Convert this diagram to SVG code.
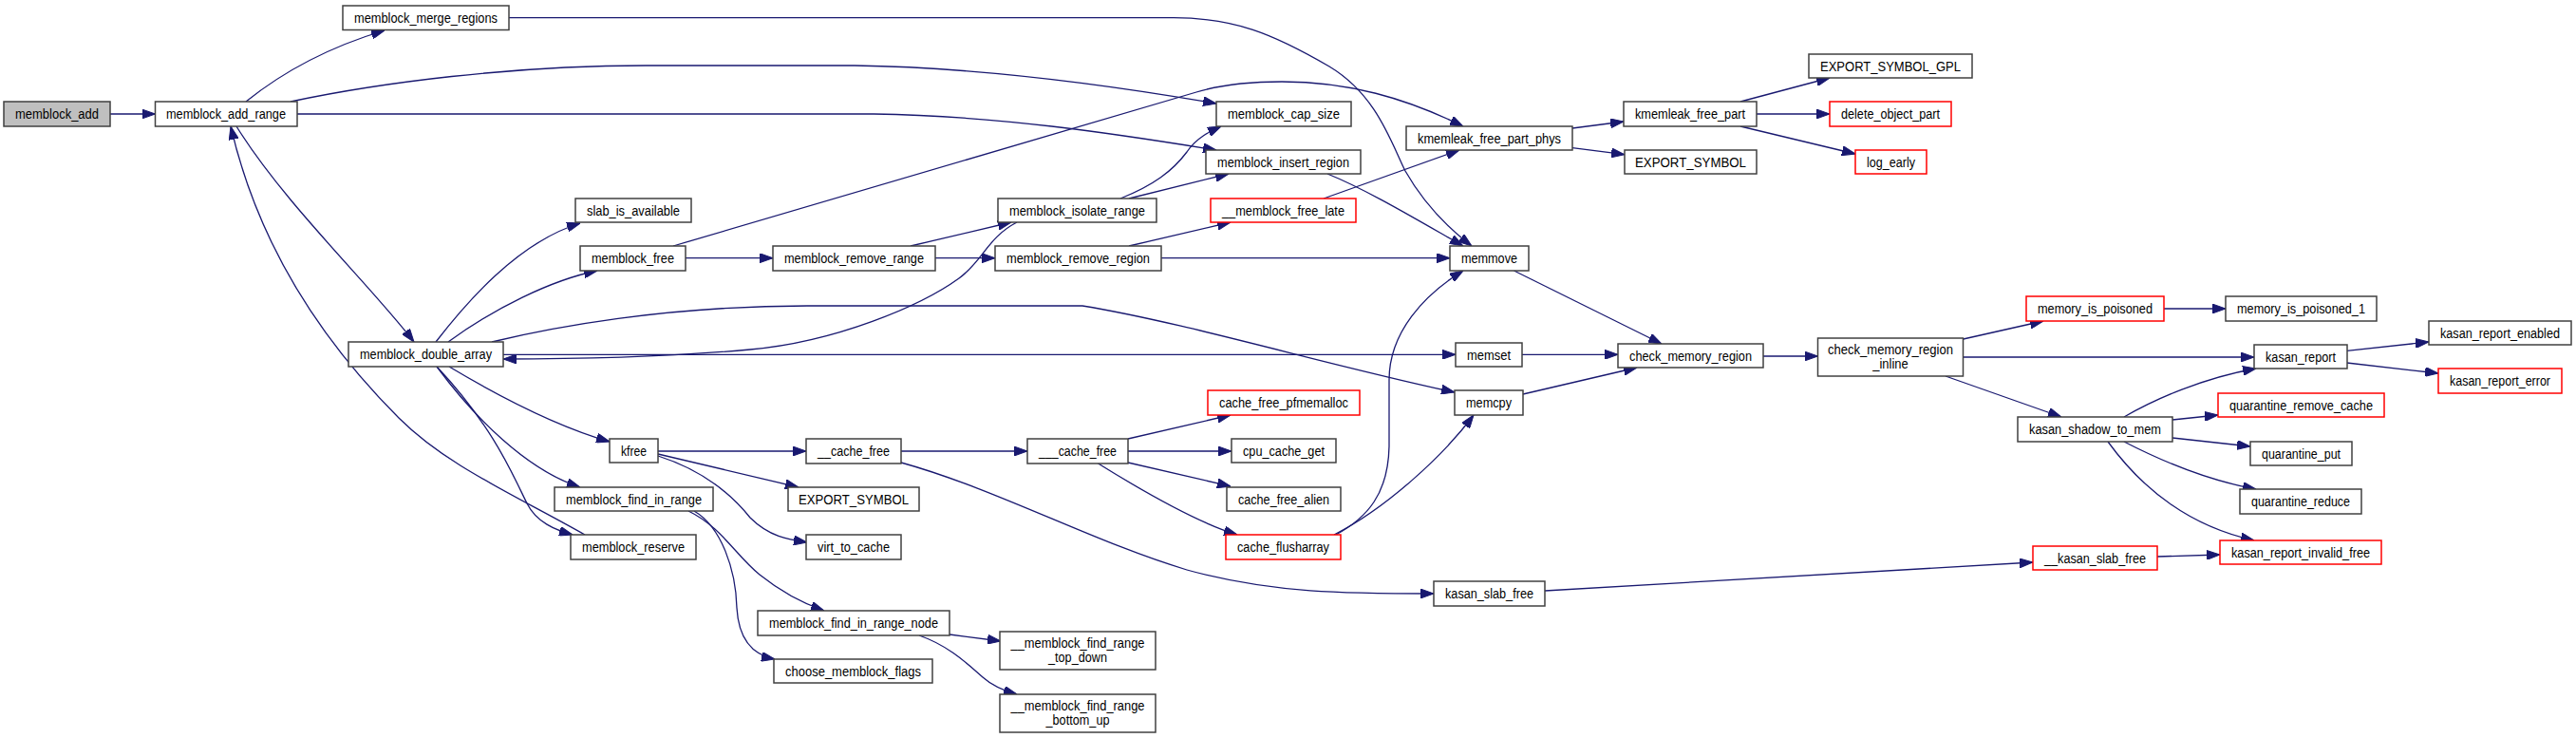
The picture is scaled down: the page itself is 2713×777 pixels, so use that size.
<svg xmlns="http://www.w3.org/2000/svg" width="2713" height="777" viewBox="0 0 2713 777">
<style>
.n rect{fill:#fff;stroke:#404040;stroke-width:1.5}
.root rect{fill:#bfbfbf}
.r rect{stroke:#ff0000}
text{font-family:"Liberation Sans",Arial,sans-serif;font-size:15.5px;text-anchor:middle;fill:#000}
.e path{fill:none;stroke:#191970;stroke-width:1.3;marker-end:url(#a)}
</style>
<defs>
<marker id="a" markerUnits="userSpaceOnUse" markerWidth="14" markerHeight="10" refX="14" refY="5" orient="auto"><path d="M0,0L14,5L0,10z" fill="#191970" stroke="#191970" stroke-width="1"/></marker>
</defs>
<rect width="2713" height="777" fill="#fff"/>
<g id="edges" class="e">
<path d="M116,120L163.5,120"/>
<path d="M259,107C295,78 345,50 405,32"/>
<path d="M306,107C400,87 540,69 680,69L900,69C1030,71 1160,88 1281,109"/>
<path d="M313,120L920,120C1050,122 1170,140 1281,158"/>
<path d="M249,133C300,215 390,300 436,360"/>
<path d="M536,18.7L1236,18.7C1300,19 1340,35 1400,70C1450,100 1465,150 1480,180C1500,215 1525,240 1550,259"/>
<path d="M459,360C490,320 545,255 611,235"/>
<path d="M472,360C520,325 580,295 629,285"/>
<path d="M473,386C530,420 590,450 642,465"/>
<path d="M460,386C500,440 555,495 611,513"/>
<path d="M460,386C520,450 540,500 555,530C565,550 585,558 603,563"/>
<path d="M616,563C540,520 470,490 420,440C330,350 270,250 243,133"/>
<path d="M518,360C580,345 700,322 850,322L1140,322C1250,340 1400,385 1532,413"/>
<path d="M530,373.3L1533,373.3"/>
<path d="M1071,234C1040,250 1035,275 1010,293C970,322 880,360 790,368C700,376 600,378 530,378"/>
<path d="M722,271.7L814,271.7"/>
<path d="M985,271.7L1048,271.7"/>
<path d="M959,259L1065,234"/>
<path d="M1189,259L1296,234"/>
<path d="M1222.5,271.7L1527,271.7"/>
<path d="M1180,209C1215,195 1235,180 1250,160C1260,145 1275,138 1286,133"/>
<path d="M1189,209L1294,183"/>
<path d="M709,259L1260,97C1290,88 1320,86 1350,86C1420,86 1480,103 1541,133"/>
<path d="M1394,209L1537,158"/>
<path d="M1398,183C1440,200 1490,230 1541,259"/>
<path d="M1407,563C1440,545 1462,520 1463,470L1463,400C1463,350 1500,310 1541,285"/>
<path d="M1405,563C1460,535 1520,480 1552,437"/>
<path d="M1656,135L1710,128"/>
<path d="M1656,155.7L1711,162.7"/>
<path d="M1833,107L1927,82"/>
<path d="M1850,120L1927,120"/>
<path d="M1833,133L1954,162"/>
<path d="M1594.5,285L1750,362"/>
<path d="M1603,373.3L1704,373.3"/>
<path d="M1604,415L1724,387"/>
<path d="M1857,375L1914.5,375"/>
<path d="M2067.7,357L2152,338"/>
<path d="M2067.7,376L2374,376"/>
<path d="M2049,396L2171,439"/>
<path d="M2279,325L2344,325"/>
<path d="M2471.7,369.3L2558,360"/>
<path d="M2471.7,382L2568,393"/>
<path d="M2237,439C2270,420 2320,398 2376,388"/>
<path d="M2288,442L2336,437"/>
<path d="M2288,461L2370,470"/>
<path d="M2237,465C2270,482 2320,505 2376,515"/>
<path d="M2220,465C2260,520 2310,555 2374,569"/>
<path d="M2272,586L2338,584"/>
<path d="M1627,622L2141,592"/>
<path d="M949,487C1050,515 1150,570 1250,600C1340,625 1420,625 1510,625"/>
<path d="M693,475L849,475"/>
<path d="M693,478L841,513"/>
<path d="M693,480C740,495 770,520 790,545C810,565 830,568 850,571"/>
<path d="M949,475L1082,475"/>
<path d="M1188,462L1296,437"/>
<path d="M1188,475L1297,475"/>
<path d="M1188,487L1296,512"/>
<path d="M1155,487C1200,515 1260,550 1303,563"/>
<path d="M725,538C760,555 775,585 800,605C825,625 845,635 868,643"/>
<path d="M731,538C760,555 775,600 776,640C778,675 795,690 816,694"/>
<path d="M1000,668L1054,675"/>
<path d="M968,669C1000,680 1020,700 1035,713C1045,722 1060,728 1071,731"/>
</g>
<g id="memblock_add" class="n root"><rect x="4" y="107" width="112" height="26"/><text x="60" y="125" textLength="88" lengthAdjust="spacingAndGlyphs">memblock_add</text></g>
<g id="memblock_add_range" class="n"><rect x="163.5" y="107" width="149.5" height="26"/><text x="238" y="125" textLength="126" lengthAdjust="spacingAndGlyphs">memblock_add_range</text></g>
<g id="memblock_merge_regions" class="n"><rect x="361" y="6" width="175" height="25.5"/><text x="448.5" y="24" textLength="151" lengthAdjust="spacingAndGlyphs">memblock_merge_regions</text></g>
<g id="memblock_cap_size" class="n"><rect x="1281" y="107" width="142" height="26"/><text x="1352" y="125" textLength="118" lengthAdjust="spacingAndGlyphs">memblock_cap_size</text></g>
<g id="memblock_insert_region" class="n"><rect x="1270" y="158" width="163" height="25"/><text x="1351.5" y="175.5" textLength="139" lengthAdjust="spacingAndGlyphs">memblock_insert_region</text></g>
<g id="slab_is_available" class="n"><rect x="606" y="209" width="122" height="25"/><text x="667" y="226.5" textLength="98" lengthAdjust="spacingAndGlyphs">slab_is_available</text></g>
<g id="memblock_free" class="n"><rect x="611" y="259" width="111" height="26"/><text x="666.5" y="277" textLength="87" lengthAdjust="spacingAndGlyphs">memblock_free</text></g>
<g id="memblock_double_array" class="n"><rect x="367" y="360" width="163" height="26"/><text x="448.5" y="378" textLength="139" lengthAdjust="spacingAndGlyphs">memblock_double_array</text></g>
<g id="memblock_remove_range" class="n"><rect x="814" y="259" width="171" height="26"/><text x="899.5" y="277" textLength="147" lengthAdjust="spacingAndGlyphs">memblock_remove_range</text></g>
<g id="memblock_isolate_range" class="n"><rect x="1051" y="209" width="167" height="25"/><text x="1134.5" y="226.5" textLength="143" lengthAdjust="spacingAndGlyphs">memblock_isolate_range</text></g>
<g id="memblock_remove_region" class="n"><rect x="1048" y="259" width="175" height="26"/><text x="1135.5" y="277" textLength="151" lengthAdjust="spacingAndGlyphs">memblock_remove_region</text></g>
<g id="__memblock_free_late" class="n r"><rect x="1275" y="209" width="153" height="25"/><text x="1351.5" y="226.5" textLength="129" lengthAdjust="spacingAndGlyphs">__memblock_free_late</text></g>
<g id="kmemleak_free_part_phys" class="n"><rect x="1481" y="133" width="175" height="25"/><text x="1568.5" y="150.5" textLength="151" lengthAdjust="spacingAndGlyphs">kmemleak_free_part_phys</text></g>
<g id="kmemleak_free_part" class="n"><rect x="1710" y="107" width="140" height="26"/><text x="1780" y="125" textLength="116" lengthAdjust="spacingAndGlyphs">kmemleak_free_part</text></g>
<g id="EXPORT_SYMBOL_1" class="n"><rect x="1711" y="158" width="139" height="25"/><text x="1780.5" y="175.5" textLength="117" lengthAdjust="spacingAndGlyphs">EXPORT_SYMBOL</text></g>
<g id="EXPORT_SYMBOL_GPL" class="n"><rect x="1905" y="57" width="172" height="25"/><text x="1991" y="74.5" textLength="148" lengthAdjust="spacingAndGlyphs">EXPORT_SYMBOL_GPL</text></g>
<g id="delete_object_part" class="n r"><rect x="1927" y="107" width="128" height="26"/><text x="1991" y="125" textLength="104" lengthAdjust="spacingAndGlyphs">delete_object_part</text></g>
<g id="log_early" class="n r"><rect x="1954" y="158" width="75" height="25"/><text x="1991.5" y="175.5" textLength="51" lengthAdjust="spacingAndGlyphs">log_early</text></g>
<g id="memmove" class="n"><rect x="1527" y="259" width="83" height="26"/><text x="1568.5" y="277" textLength="59" lengthAdjust="spacingAndGlyphs">memmove</text></g>
<g id="memset" class="n"><rect x="1533" y="361" width="70" height="25"/><text x="1568" y="378.5" textLength="46" lengthAdjust="spacingAndGlyphs">memset</text></g>
<g id="memcpy" class="n"><rect x="1532" y="411" width="72" height="26"/><text x="1568" y="429" textLength="48" lengthAdjust="spacingAndGlyphs">memcpy</text></g>
<g id="check_memory_region" class="n"><rect x="1704" y="362" width="153" height="25"/><text x="1780.5" y="379.5" textLength="129" lengthAdjust="spacingAndGlyphs">check_memory_region</text></g>
<g id="check_memory_region_inline" class="n"><rect x="1914.5" y="356" width="153" height="40"/><text x="1991" y="373" textLength="132" lengthAdjust="spacingAndGlyphs">check_memory_region</text><text x="1991" y="388" textLength="37.5" lengthAdjust="spacingAndGlyphs">_inline</text></g>
<g id="memory_is_poisoned" class="n r"><rect x="2134" y="312" width="145" height="26"/><text x="2206.5" y="330" textLength="121" lengthAdjust="spacingAndGlyphs">memory_is_poisoned</text></g>
<g id="memory_is_poisoned_1" class="n"><rect x="2344" y="312" width="159" height="26"/><text x="2423.5" y="330" textLength="135" lengthAdjust="spacingAndGlyphs">memory_is_poisoned_1</text></g>
<g id="kasan_report" class="n"><rect x="2374" y="363" width="98" height="25"/><text x="2423" y="380.5" textLength="74" lengthAdjust="spacingAndGlyphs">kasan_report</text></g>
<g id="kasan_report_enabled" class="n"><rect x="2558" y="338" width="150" height="25"/><text x="2633" y="355.5" textLength="126" lengthAdjust="spacingAndGlyphs">kasan_report_enabled</text></g>
<g id="kasan_report_error" class="n r"><rect x="2568" y="388" width="130" height="26"/><text x="2633" y="406" textLength="106" lengthAdjust="spacingAndGlyphs">kasan_report_error</text></g>
<g id="kasan_shadow_to_mem" class="n"><rect x="2125" y="439" width="163" height="26"/><text x="2206.5" y="457" textLength="139" lengthAdjust="spacingAndGlyphs">kasan_shadow_to_mem</text></g>
<g id="quarantine_remove_cache" class="n r"><rect x="2336" y="414" width="175" height="25"/><text x="2423.5" y="431.5" textLength="151" lengthAdjust="spacingAndGlyphs">quarantine_remove_cache</text></g>
<g id="quarantine_put" class="n"><rect x="2370" y="465" width="107" height="25"/><text x="2423.5" y="482.5" textLength="83" lengthAdjust="spacingAndGlyphs">quarantine_put</text></g>
<g id="quarantine_reduce" class="n"><rect x="2359" y="515" width="128" height="26"/><text x="2423" y="533" textLength="104" lengthAdjust="spacingAndGlyphs">quarantine_reduce</text></g>
<g id="kasan_report_invalid_free" class="n r"><rect x="2338" y="569" width="170" height="25"/><text x="2423" y="586.5" textLength="146" lengthAdjust="spacingAndGlyphs">kasan_report_invalid_free</text></g>
<g id="__kasan_slab_free" class="n r"><rect x="2141" y="575" width="131" height="25"/><text x="2206.5" y="592.5" textLength="107" lengthAdjust="spacingAndGlyphs">__kasan_slab_free</text></g>
<g id="kasan_slab_free" class="n"><rect x="1510" y="612" width="117" height="26"/><text x="1568.5" y="630" textLength="93" lengthAdjust="spacingAndGlyphs">kasan_slab_free</text></g>
<g id="kfree" class="n"><rect x="642" y="462" width="51" height="25"/><text x="667.5" y="479.5" textLength="27" lengthAdjust="spacingAndGlyphs">kfree</text></g>
<g id="memblock_find_in_range" class="n"><rect x="584" y="513" width="167" height="25"/><text x="667.5" y="530.5" textLength="143" lengthAdjust="spacingAndGlyphs">memblock_find_in_range</text></g>
<g id="memblock_reserve" class="n"><rect x="601" y="563" width="132" height="26"/><text x="667" y="581" textLength="108" lengthAdjust="spacingAndGlyphs">memblock_reserve</text></g>
<g id="__cache_free" class="n"><rect x="849" y="462" width="100" height="26"/><text x="899" y="480" textLength="76" lengthAdjust="spacingAndGlyphs">__cache_free</text></g>
<g id="EXPORT_SYMBOL_2" class="n"><rect x="830" y="513" width="138" height="25"/><text x="899" y="530.5" textLength="116" lengthAdjust="spacingAndGlyphs">EXPORT_SYMBOL</text></g>
<g id="virt_to_cache" class="n"><rect x="849" y="563" width="100" height="26"/><text x="899" y="581" textLength="76" lengthAdjust="spacingAndGlyphs">virt_to_cache</text></g>
<g id="___cache_free" class="n"><rect x="1082" y="462" width="106" height="26"/><text x="1135" y="480" textLength="82" lengthAdjust="spacingAndGlyphs">___cache_free</text></g>
<g id="cache_free_pfmemalloc" class="n r"><rect x="1272" y="411" width="160" height="26"/><text x="1352" y="429" textLength="136" lengthAdjust="spacingAndGlyphs">cache_free_pfmemalloc</text></g>
<g id="cpu_cache_get" class="n"><rect x="1297" y="462" width="110" height="25"/><text x="1352" y="479.5" textLength="86" lengthAdjust="spacingAndGlyphs">cpu_cache_get</text></g>
<g id="cache_free_alien" class="n"><rect x="1292" y="513" width="120" height="25"/><text x="1352" y="530.5" textLength="96" lengthAdjust="spacingAndGlyphs">cache_free_alien</text></g>
<g id="cache_flusharray" class="n r"><rect x="1291" y="563" width="121" height="26"/><text x="1351.5" y="581" textLength="97" lengthAdjust="spacingAndGlyphs">cache_flusharray</text></g>
<g id="memblock_find_in_range_node" class="n"><rect x="798" y="643" width="202" height="26"/><text x="899" y="661" textLength="178" lengthAdjust="spacingAndGlyphs">memblock_find_in_range_node</text></g>
<g id="__memblock_find_range_top_down" class="n"><rect x="1053" y="665" width="164" height="40"/><text x="1135" y="682" textLength="141" lengthAdjust="spacingAndGlyphs">__memblock_find_range</text><text x="1135" y="697" textLength="62" lengthAdjust="spacingAndGlyphs">_top_down</text></g>
<g id="choose_memblock_flags" class="n"><rect x="815" y="694" width="167" height="25"/><text x="898.5" y="711.5" textLength="143" lengthAdjust="spacingAndGlyphs">choose_memblock_flags</text></g>
<g id="__memblock_find_range_bottom_up" class="n"><rect x="1053" y="731" width="164" height="40"/><text x="1135" y="748" textLength="141" lengthAdjust="spacingAndGlyphs">__memblock_find_range</text><text x="1135" y="763" textLength="67" lengthAdjust="spacingAndGlyphs">_bottom_up</text></g>
</svg>
